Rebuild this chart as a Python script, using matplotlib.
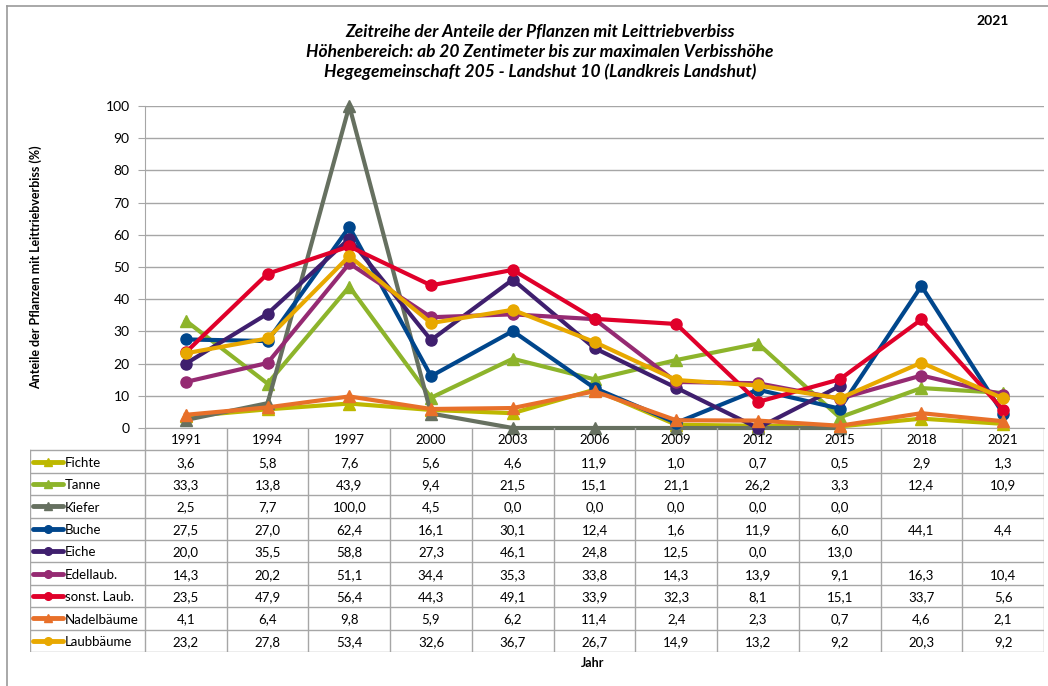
import numpy as np
import matplotlib.pyplot as plt

plt.rcParams['font.family'] = ['Lato', 'DejaVu Sans']

nan = np.nan
years = ['1991', '1994', '1997', '2000', '2003', '2006', '2009', '2012', '2015', '2018', '2021']

fichte = [3.6, 5.8, 7.6, 5.6, 4.6, 11.9, 1.0, 0.7, 0.5, 2.9, 1.3]
tanne = [33.3, 13.8, 43.9, 9.4, 21.5, 15.1, 21.1, 26.2, 3.3, 12.4, 10.9]
kiefer = [2.5, 7.7, 100.0, 4.5, 0.0, 0.0, 0.0, 0.0, 0.0, nan, nan]
buche = [27.5, 27.0, 62.4, 16.1, 30.1, 12.4, 1.6, 11.9, 6.0, 44.1, 4.4]
eiche = [20.0, 35.5, 58.8, 27.3, 46.1, 24.8, 12.5, 0.0, 13.0, nan, nan]
edellaub = [14.3, 20.2, 51.1, 34.4, 35.3, 33.8, 14.3, 13.9, 9.1, 16.3, 10.4]
sonst_laub = [23.5, 47.9, 56.4, 44.3, 49.1, 33.9, 32.3, 8.1, 15.1, 33.7, 5.6]
nadelbaeume = [4.1, 6.4, 9.8, 5.9, 6.2, 11.4, 2.4, 2.3, 0.7, 4.6, 2.1]
laubbaeume = [23.2, 27.8, 53.4, 32.6, 36.7, 26.7, 14.9, 13.2, 9.2, 20.3, 9.2]

names = ['Fichte', 'Tanne', 'Kiefer', 'Buche', 'Eiche', 'Edellaub.',
         'sonst. Laub.', 'Nadelbäume', 'Laubbäume']
series = [fichte, tanne, kiefer, buche, eiche, edellaub, sonst_laub, nadelbaeume, laubbaeume]
colors = ['#BDB800', '#8DB42B', '#667060', '#00468C', '#3F1F6E', '#952A72',
          '#E0002A', '#E8702A', '#E8A800']
markers = ['^', '^', '^', 'o', 'o', 'o', 'o', '^', 'o']

W, H = 1048, 686
grid_col = '#A6A6A6'


def box(x0, y0, x1, y1):
    return [x0 / W, 1 - y1 / H, (x1 - x0) / W, (y1 - y0) / H]


fig = plt.figure(figsize=(W / 100, H / 100), dpi=100)
# outer frame: only left and top edges are visible
fig.add_artist(plt.Line2D([7 / W, 7 / W], [0, 1 - 6 / H], color='#9A9A9A', lw=1.2))
fig.add_artist(plt.Line2D([7 / W, 1], [1 - 6 / H, 1 - 6 / H], color='#9A9A9A', lw=1.2))

# chart
ax = fig.add_axes(box(145, 106, 1044, 428))
x = np.arange(len(years))
for vals, c, m in zip(series, colors, markers):
    ax.plot(x, vals, color=c, lw=3, marker=m, ms=8, clip_on=False, zorder=3)
ax.set_xlim(-0.5, 10.5)
ax.set_ylim(0, 100)
ax.set_yticks(range(0, 101, 10))
ax.set_xticks([])
ax.grid(axis='y', color=grid_col, lw=1)
ax.set_axisbelow(True)
for s in ['top', 'right']:
    ax.spines[s].set_visible(False)
for s in ['left', 'bottom']:
    ax.spines[s].set_color(grid_col)
ax.tick_params(axis='y', direction='out', length=5, color=grid_col, labelsize=10, pad=6)
ax.set_ylabel('Anteile der Pflanzen mit Leittriebverbiss (%)', fontsize=9, fontweight='bold',
              labelpad=46)

# data table
col_w = (1044 - 145) / 11
xl = -0.5 - (145 - 30) / col_w
tab = fig.add_axes(box(30, 428, 1044, 652))
tab.set_xlim(xl, 10.5)
tab.set_ylim(10, 0)
tab.axis('off')
for i in range(12):
    tab.plot([i - 0.5, i - 0.5], [0, 10], color=grid_col, lw=1)
tab.plot([xl, xl], [1, 10], color=grid_col, lw=1)
for j in range(1, 11):
    tab.plot([xl, 10.5], [j, j], color=grid_col, lw=1)
for i, yr in enumerate(years):
    tab.text(i, 0.55, yr, ha='center', va='center', fontsize=9.5)
px = 1 / col_w
for r, (n, vals, c, m) in enumerate(zip(names, series, colors, markers)):
    yy = r + 1.5
    tab.plot([xl + 3 * px, xl + 33 * px], [yy, yy], color=c, lw=3.5, solid_capstyle='round')
    tab.plot([xl + 18 * px], [yy], color=c, marker=m, ms=5.5)
    tab.text(xl + 35 * px, yy + 0.05, n, ha='left', va='center', fontsize=9.5)
    for i, v in enumerate(vals):
        if not np.isnan(v):
            tab.text(i, yy + 0.05, f'{v:.1f}'.replace('.', ','), ha='center', va='center',
                     fontsize=9.5)

fig.text(593 / W, 1 - 663 / H, 'Jahr', ha='center', va='center', fontsize=9, fontweight='bold')

title = ('Zeitreihe der Anteile der Pflanzen mit Leittriebverbiss\n'
         'Höhenbereich: ab 20 Zentimeter bis zur maximalen Verbisshöhe\n'
         'Hegegemeinschaft 205 - Landshut 10 (Landkreis Landshut)')
fig.text(540 / W, 1 - 52 / H, title, ha='center', va='center', fontsize=12.5,
         fontweight='bold', fontstyle='italic', linespacing=1.3)
fig.text(993 / W, 1 - 21 / H, '2021', ha='center', va='center', fontsize=10, fontweight='bold')

fig.savefig('out.png', dpi=100)
